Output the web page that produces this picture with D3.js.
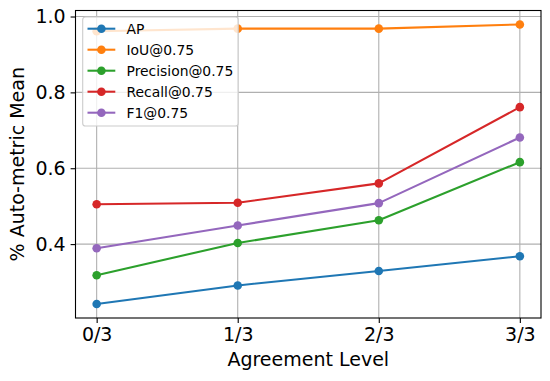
<!DOCTYPE html>
<html><head><meta charset="utf-8">
<script src="https://cdn.jsdelivr.net/npm/d3@7"></script>
<style>body{margin:0;background:#fff;} svg{display:block;font-family:"DejaVu Sans",sans-serif;}</style>
</head><body>
<svg id="c" width="550" height="381"></svg>
<script>
const categories = ["0/3", "1/3", "2/3", "3/3"];
const seriesNames = ["AP", "IoU@0.75", "Precision@0.75", "Recall@0.75", "F1@0.75"];
const apValues = [0.242, 0.291, 0.329, 0.368];
const iouValues = [0.961, 0.968, 0.968, 0.979];
const precisionValues = [0.318, 0.403, 0.463, 0.616];
const recallValues = [0.505, 0.509, 0.560, 0.761];
const f1Values = [0.389, 0.449, 0.508, 0.681];
const yTicks = [0.4, 0.6, 0.8, 1.0];
const colors = ["#1f77b4", "#ff7f0e", "#2ca02c", "#d62728", "#9467bd"];

const series = [apValues, iouValues, precisionValues, recallValues, f1Values]
  .map((v, i) => ({name: seriesNames[i], values: v, color: colors[i]}));

const svg = d3.select("#c");
const L = 75.5, R = 541, T = 10.5, B = 318;

const x = d3.scaleLinear().domain([-0.15, categories.length - 1 + 0.15]).range([L, R]);
const all = series.flatMap(s => s.values);
const mn = d3.min(all), mx = d3.max(all), pad = (mx - mn) * 0.05;
const y = d3.scaleLinear().domain([mn - pad, mx + pad]).range([B, T]);

// grid
const g = svg.append("g");
g.selectAll("line.gx").data(categories).join("line")
  .attr("x1", (d, i) => x(i)).attr("x2", (d, i) => x(i))
  .attr("y1", T).attr("y2", B).attr("stroke", "#b0b0b0").attr("stroke-width", 1.1);
g.selectAll("line.gy").data(yTicks).join("line")
  .attr("x1", L).attr("x2", R).attr("y1", d => y(d)).attr("y2", d => y(d))
  .attr("stroke", "#b0b0b0").attr("stroke-width", 1.1);

// axes
const xAxis = d3.axisBottom(x).tickValues(d3.range(categories.length))
  .tickFormat(i => categories[i]).tickSize(4.9).tickPadding(4.9);
const yAxis = d3.axisLeft(y).tickValues(yTicks).tickFormat(d3.format(".1f"))
  .tickSize(4.9).tickPadding(4.9);
const ax = svg.append("g").attr("transform", `translate(0,${B})`).call(xAxis);
const ay = svg.append("g").attr("transform", `translate(${L},0)`).call(yAxis);
[ax, ay].forEach(a => {
  a.select(".domain").remove();
  a.selectAll(".tick line").attr("stroke", "#000").attr("stroke-width", 1.1);
  a.selectAll(".tick text").attr("font-size", 19).attr("fill", "#000")
    .attr("font-family", "DejaVu Sans");
});
ax.selectAll(".tick text").attr("dy", "0.71em");

// lines
const line = d3.line().x((d, i) => x(i)).y(d => y(d));
const sg = svg.append("g");
series.forEach(s => {
  sg.append("path").attr("d", line(s.values)).attr("fill", "none")
    .attr("stroke", s.color).attr("stroke-width", 2.08).attr("stroke-linejoin", "round");
  sg.selectAll(null).data(s.values).join("circle")
    .attr("cx", (d, i) => x(i)).attr("cy", d => y(d)).attr("r", 4.3).attr("fill", s.color);
});

// frame
svg.append("rect").attr("x", L).attr("y", T).attr("width", R - L).attr("height", B - T)
  .attr("fill", "none").attr("stroke", "#000").attr("stroke-width", 1.1);

// labels
svg.append("text").attr("x", (L + R) / 2).attr("y", 366).attr("text-anchor", "middle")
  .attr("font-size", 19).text("Agreement Level");
svg.append("text").attr("transform", `translate(24,${(T + B) / 2}) rotate(-90)`)
  .attr("text-anchor", "middle").attr("font-size", 19).text("% Auto-metric Mean");

// legend
const lg = svg.append("g");
lg.append("rect").attr("x", 82.7).attr("y", 17).attr("width", 155.5).attr("height", 109)
  .attr("rx", 2.8).attr("fill", "#fff").attr("fill-opacity", 0.8)
  .attr("stroke", "#cccccc").attr("stroke-width", 1.1);
series.forEach((s, i) => {
  const yy = 28.7 + i * 21;
  lg.append("line").attr("x1", 87.5).attr("x2", 115.3).attr("y1", yy).attr("y2", yy)
    .attr("stroke", s.color).attr("stroke-width", 2.08);
  lg.append("circle").attr("cx", 101.4).attr("cy", yy).attr("r", 4.3).attr("fill", s.color);
  lg.append("text").attr("x", 126.5).attr("y", yy).attr("dy", "0.36em")
    .attr("font-size", 13.9).text(s.name);
});
</script>
</body></html>
